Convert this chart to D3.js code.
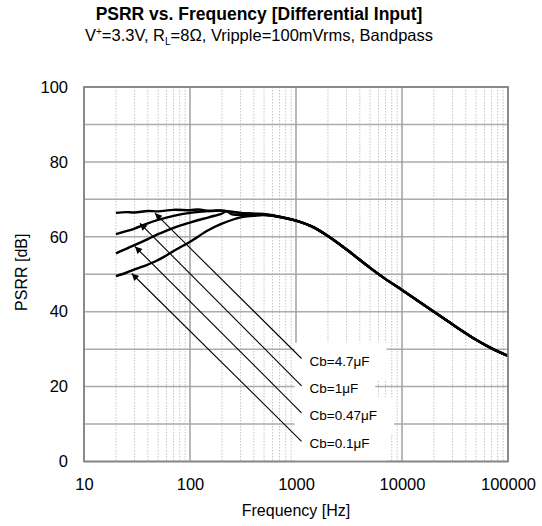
<!DOCTYPE html>
<html>
<head>
<meta charset="utf-8">
<script src="https://cdn.jsdelivr.net/npm/d3@7/dist/d3.min.js"></script>
<style>
  html, body { margin: 0; padding: 0; background: #fff; }
  svg { display: block; font-family: "Liberation Sans", Arial, sans-serif; }
</style>
</head>
<body>
<svg id="chart" width="542" height="526"></svg>
<script>
// ---- data ----
const titleText = "PSRR vs. Frequency [Differential Input]";
const xTickValues = [10, 100, 1000, 10000, 100000];
const yTickValues = [0, 20, 40, 60, 80, 100];
const yGridValues = [0, 10, 20, 30, 40, 50, 60, 70, 80, 90, 100];
const xLabel = "Frequency [Hz]";
const yLabel = "PSRR [dB]";

const seriesNames = ["Cb=4.7μF", "Cb=1μF", "Cb=0.47μF", "Cb=0.1μF"];

// shared high-frequency part (curves overlap)
const commonFreq = [1000, 1500, 2000, 3000, 5000, 7000, 10000, 15000, 20000, 30000, 50000, 70000, 100000];
const commonDb   = [64.3, 62.4, 60.2, 56.6, 51.7, 48.7, 45.8, 42.4, 40.0, 36.6, 32.5, 30.2, 28.2];

const lowFreq47 = [20, 25, 30, 40, 50, 70, 100, 120, 150, 200, 250, 300, 400, 500, 700];
const lowDb47   = [66.4, 66.6, 66.5, 66.9, 66.8, 67.2, 67.1, 67.3, 66.9, 67.0, 66.7, 66.4, 66.2, 66.1, 65.4];

const lowFreq1 = [20, 25, 30, 40, 50, 70, 100, 150, 200, 250, 300, 400, 500, 700];
const lowDb1   = [60.7, 61.5, 62.2, 63.6, 64.5, 65.6, 66.4, 66.9, 67.0, 66.6, 66.4, 66.1, 66.0, 65.4];

const lowFreq047 = [20, 25, 30, 40, 50, 70, 100, 150, 200, 220, 250, 300, 400, 500, 700];
const lowDb047   = [55.6, 56.8, 57.8, 59.4, 60.7, 62.4, 63.8, 65.2, 66.2, 66.8, 66.0, 65.8, 66.0, 65.9, 65.3];

const lowFreq01 = [20, 25, 30, 40, 50, 70, 100, 150, 200, 300, 400, 500, 700];
const lowDb01   = [49.5, 50.4, 51.3, 52.6, 53.8, 56.2, 58.7, 61.8, 63.5, 65.2, 65.6, 65.8, 65.3];

// annotation arrows: tail (near label) and tip (on curve), in data units
const arrowTailFreq = [1128, 1128, 1128, 1128];
const arrowTailDb   = [27.5, 20.2, 13.0, 5.4];
const arrowTipFreq  = [46.7, 33.7, 30.3, 28.2];
const arrowTipDb    = [66.3, 63.6, 57.4, 50.2];

// ---- build ----
const svg = d3.select("#chart");
const L = 84, R = 508, T = 87, B = 461.5;
const x = d3.scaleLog().domain([10, 100000]).range([L, R]);
const y = d3.scaleLinear().domain([0, 100]).range([B, T]);

function build(fl, dl) {
  const pts = fl.map((f, i) => [f, dl[i]]);
  return pts.concat(commonFreq.map((f, i) => [f, commonDb[i]]));
}
const series = [
  build(lowFreq47, lowDb47),
  build(lowFreq1, lowDb1),
  build(lowFreq047, lowDb047),
  build(lowFreq01, lowDb01)
];

// minor vertical grid (dotted)
const minor = [];
for (let d = 10; d < 100000; d *= 10) for (let k = 2; k <= 9; k++) minor.push(d * k);
svg.append("g").selectAll("line").data(minor).join("line")
  .attr("x1", d => x(d)).attr("x2", d => x(d)).attr("y1", T).attr("y2", B)
  .attr("stroke", "#c4c4c4").attr("stroke-width", 1).attr("stroke-dasharray", "1.5,1.5");

// major horizontal grid
svg.append("g").selectAll("line").data(yGridValues).join("line")
  .attr("x1", L).attr("x2", R).attr("y1", d => y(d)).attr("y2", d => y(d))
  .attr("stroke", "#ababab").attr("stroke-width", 1.5);

// major vertical grid
svg.append("g").selectAll("line").data(xTickValues).join("line")
  .attr("x1", d => x(d)).attr("x2", d => x(d)).attr("y1", T).attr("y2", B)
  .attr("stroke", "#a0a0a0").attr("stroke-width", 1.5);

// curves
const line = d3.line().x(d => x(d[0])).y(d => y(d[1])).curve(d3.curveCatmullRom.alpha(0.5));
svg.append("g").selectAll("path").data(series).join("path")
  .attr("d", line).attr("fill", "none").attr("stroke", "#000")
  .attr("stroke-width", 2.4).attr("stroke-linejoin", "round");

// label boxes + labels
const labG = svg.append("g");
const texts = [];
seriesNames.forEach((name, i) => {
  const tx = x(arrowTailFreq[i]) + 8;
  const ty = y(arrowTailDb[i]) + 3.5;
  const t = labG.append("text").attr("x", tx).attr("y", ty)
    .attr("dominant-baseline", "middle").attr("font-size", 13.5).attr("fill", "#000").text(name);
  texts.push(t);
});
texts.forEach(t => {
  const bb = t.node().getBBox();
  labG.insert("rect", "text").attr("x", bb.x - 15).attr("y", bb.y - 11)
    .attr("width", bb.width + 32).attr("height", bb.height + 22).attr("fill", "#fff");
});

// plot border
svg.append("rect").attr("x", L).attr("y", T).attr("width", R - L).attr("height", B - T)
  .attr("fill", "none").attr("stroke", "#858585").attr("stroke-width", 1.8);

// arrows
svg.append("defs").append("marker").attr("id", "ah")
  .attr("viewBox", "0 0 10 10").attr("refX", 10).attr("refY", 5)
  .attr("markerWidth", 10).attr("markerHeight", 7).attr("markerUnits", "userSpaceOnUse")
  .attr("orient", "auto")
  .append("path").attr("d", "M0,0 L10,5 L0,10 Z").attr("fill", "#000");
svg.append("g").selectAll("line").data(seriesNames).join("line")
  .attr("x1", (d, i) => x(arrowTailFreq[i])).attr("y1", (d, i) => y(arrowTailDb[i]))
  .attr("x2", (d, i) => x(arrowTipFreq[i])).attr("y2", (d, i) => y(arrowTipDb[i]))
  .attr("stroke", "#000").attr("stroke-width", 1.1).attr("marker-end", "url(#ah)");

// axes
const xAxis = d3.axisBottom(x).tickValues(xTickValues).tickFormat(d3.format("d")).tickSize(0).tickPadding(17);
const gx = svg.append("g").attr("transform", `translate(0,${B})`).call(xAxis);
gx.select(".domain").remove();
gx.selectAll("text").attr("font-size", 16.5).attr("fill", "#000").attr("font-family", "Liberation Sans, Arial, sans-serif");

const yAxis = d3.axisLeft(y).tickValues(yTickValues).tickSize(0).tickPadding(16);
const gy = svg.append("g").attr("transform", `translate(${L},0)`).call(yAxis);
gy.select(".domain").remove();
gy.selectAll("text").attr("font-size", 16.5).attr("fill", "#000").attr("font-family", "Liberation Sans, Arial, sans-serif");

svg.append("text").attr("x", (L + R) / 2).attr("y", 516).attr("text-anchor", "middle")
  .attr("font-size", 16).text(xLabel);
svg.append("text").attr("transform", `translate(27,${(T + B) / 2 - 2}) rotate(-90)`)
  .attr("text-anchor", "middle").attr("font-size", 16).text(yLabel);

// titles
svg.append("text").attr("x", 259).attr("y", 20).attr("text-anchor", "middle")
  .attr("font-size", 17.5).attr("font-weight", "bold").text(titleText);
const sub = svg.append("text").attr("x", 259).attr("y", 41).attr("text-anchor", "middle").attr("font-size", 16.5);
sub.append("tspan").text("V");
sub.append("tspan").attr("font-size", 10).attr("dy", -6).text("+");
sub.append("tspan").attr("dy", 6).text("=3.3V, R");
sub.append("tspan").attr("font-size", 10).attr("dy", 4).text("L");
sub.append("tspan").attr("dy", -4).text("=8Ω, Vripple=100mVrms, Bandpass");
</script>
</body>
</html>
